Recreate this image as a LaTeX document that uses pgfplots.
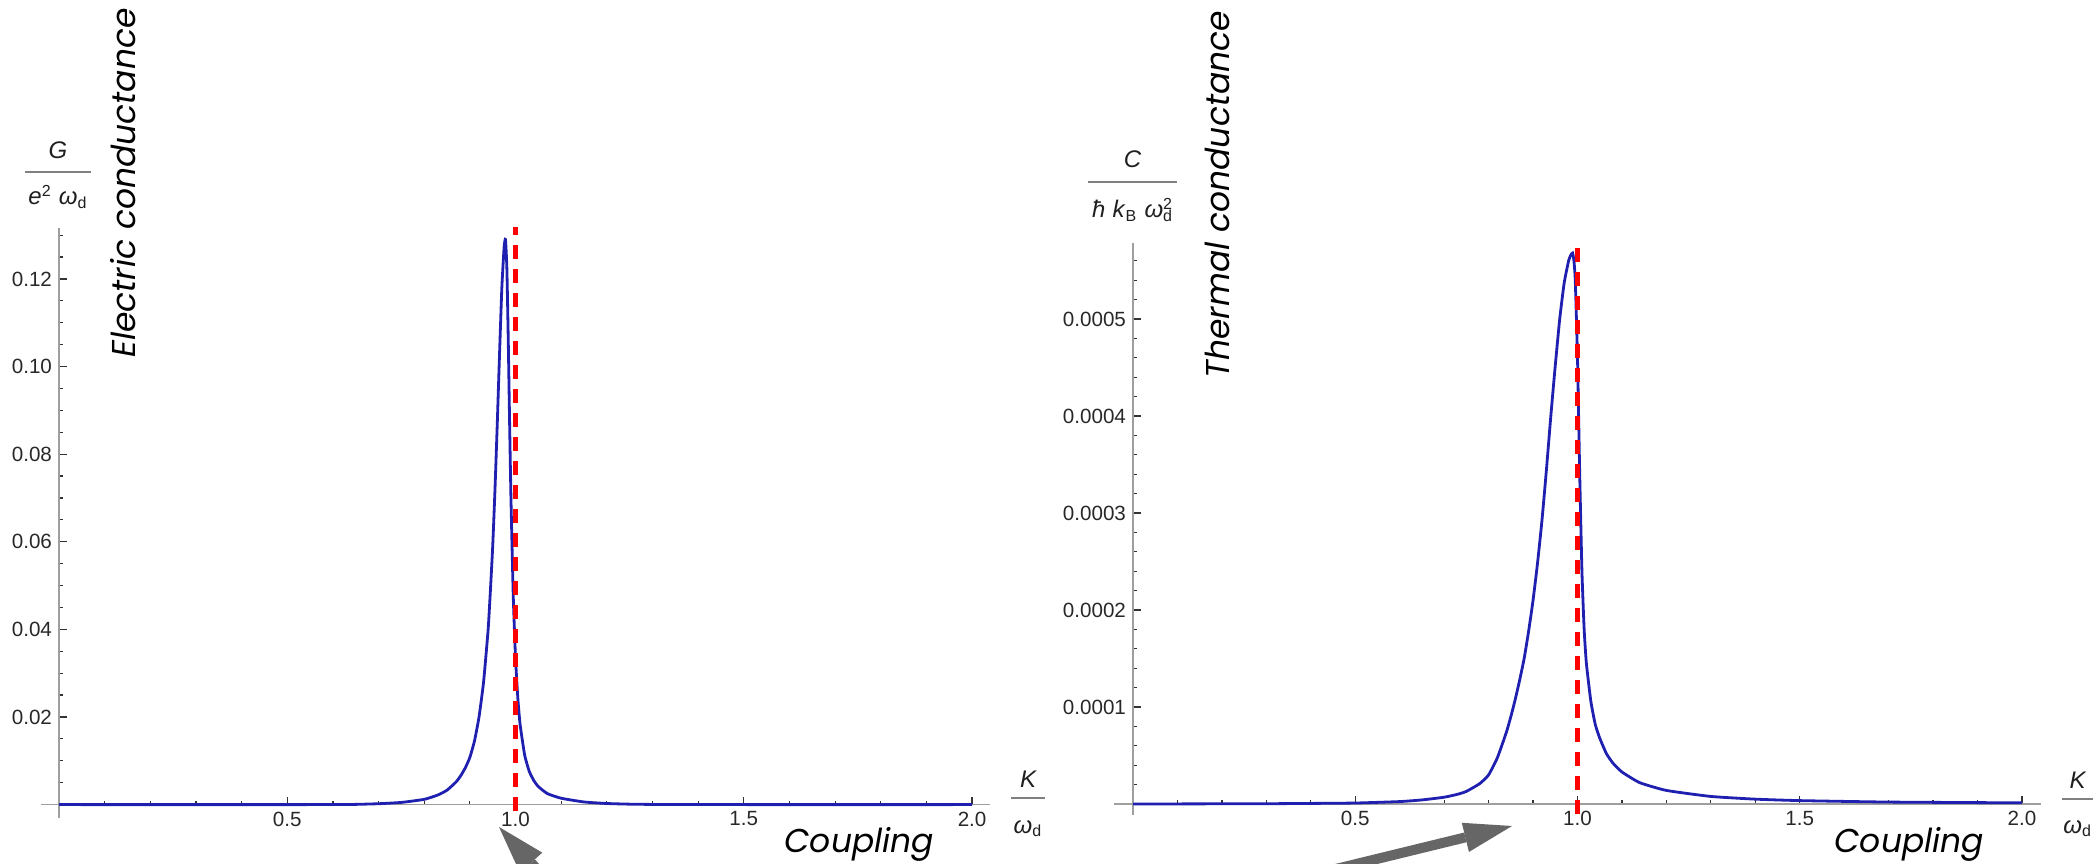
\documentclass[border=0pt]{standalone}
\usepackage{fontspec}
\setmainfont{Liberation Sans}
\newfontfamily\capfont{Poppins}
\usepackage{pgfplots}
\pgfplotsset{compat=1.18}
\usetikzlibrary{arrows.meta}

\definecolor{mblue}{RGB}{32,32,176}
\definecolor{arrowgray}{RGB}{102,102,102}
\definecolor{ticktext}{RGB}{40,40,40}

% Mathematica-like axes through the origin
\pgfplotsset{mma/.style={
  scale only axis, axis lines*=middle, clip=false,
  axis line style={gray!75, line width=0.9pt},
  tick align=inside,
  major tick length=4pt, minor tick length=2pt,
  tick style={gray!40!black, line width=0.6pt},
  tick label style={font=\fontsize{10.3}{12}\selectfont, text=ticktext},
  scaled x ticks=false, scaled y ticks=false,
  xtick={0.5,1,1.5,2}, xticklabels={0.5,1.0,1.5,2.0},
  minor xtick={0.1,0.2,0.3,0.4,0.6,0.7,0.8,0.9,1.1,1.2,1.3,1.4,1.6,1.7,1.8,1.9},
}}
\newcommand{\captext}[1]{\capfont\itshape\fontsize{16.5}{18}\selectfont #1}
\newcommand{\lab}{\fontsize{12}{14}\selectfont\color{black!88}}
\newcommand{\sep}{\hspace{0.3em}}

\begin{document}
\begin{tikzpicture}
\path[use as bounding box] (0,0) rectangle (1050pt,431.5pt);

% electric conductance
\begin{axis}[mma,
  at={(29.5pt,29.2pt)}, anchor=origin,
  width=474.8pt, height=294.8pt,
  xmin=-0.04, xmax=2.04, ymin=-0.003, ymax=0.1316,
  ytick={0.02,0.04,0.06,0.08,0.10,0.12},
  yticklabels={0.02,0.04,0.06,0.08,0.10,0.12},
  minor ytick={0.005,0.01,0.015,0.025,0.03,0.035,0.045,0.05,0.055,0.065,0.07,0.075,0.085,0.09,0.095,0.105,0.11,0.115,0.125,0.13},
]
\addplot[mblue, line width=1.4pt, smooth, tension=0.3] coordinates {
(0,0) (0.55,0) (0.6,0.00001) (0.65,0.00005) (0.7,0.0002) (0.75,0.0005) (0.8,0.0012)
(0.83,0.0022) (0.85,0.0033) (0.87,0.0052) (0.88,0.0066) (0.89,0.0084)
(0.9,0.0108) (0.91,0.0145) (0.92,0.020) (0.93,0.028) (0.94,0.040)
(0.945,0.049) (0.95,0.059) (0.955,0.072) (0.96,0.087) (0.965,0.103)
(0.97,0.118) (0.975,0.1273) (0.978,0.129) (0.981,0.1225) (0.984,0.1064)
(0.987,0.0872) (0.99,0.0697) (0.995,0.0476) (1.0,0.0334) (1.005,0.0243)
(1.01,0.0183) (1.02,0.0113) (1.03,0.0076) (1.04,0.0055) (1.05,0.0041) (1.07,0.0025)
(1.1,0.00145) (1.15,0.0006) (1.2,0.00025) (1.25,0.0001) (1.3,0.00004) (1.4,0.00001) (1.5,0) (2.0,0)
};
\addplot[red, line width=2.6pt, dash pattern=on 7pt off 5pt] coordinates {(1,-0.0015) (1,0.1318)};
\end{axis}

% thermal conductance
\begin{axis}[mma,
  at={(566.5pt,29.5pt)}, anchor=origin,
  width=463.6pt, height=285.8pt,
  xmin=-0.043, xmax=2.043, ymin=-0.0000113, ymax=0.000578,
  ytick={0.0001,0.0002,0.0003,0.0004,0.0005},
  yticklabels={0.0001,0.0002,0.0003,0.0004,0.0005},
  minor ytick={0.00002,0.00004,0.00006,0.00008,0.00012,0.00014,0.00016,0.00018,0.00022,0.00024,0.00026,0.00028,0.00032,0.00034,0.00036,0.00038,0.00042,0.00044,0.00046,0.00048,0.00052,0.00054,0.00056},
]
\addplot[mblue, line width=1.4pt, smooth, tension=0.3] coordinates {
(0,0) (0.3,0.0000003) (0.4,0.0000006) (0.5,0.000001) (0.6,0.0000025) (0.65,0.0000042)
(0.7,0.000007) (0.73,0.00001) (0.75,0.000013) (0.78,0.000021) (0.8,0.00003)
(0.82,0.000048) (0.84,0.000074) (0.85,0.00009) (0.86,0.000108) (0.87,0.000128)
(0.88,0.00015) (0.89,0.000178) (0.9,0.00021) (0.91,0.000248) (0.92,0.000292)
(0.93,0.000344) (0.94,0.0004) (0.95,0.000452) (0.96,0.000500) (0.97,0.000537)
(0.98,0.00056) (0.985,0.000566) (0.989,0.000568) (0.992,0.000560)
(0.995,0.00054) (1.0,0.00046) (1.005,0.00034) (1.01,0.00024) (1.015,0.00018)
(1.02,0.000145) (1.03,0.000106) (1.04,0.000082) (1.05,0.000068) (1.065,0.000052)
(1.08,0.000042) (1.1,0.000033) (1.14,0.000022) (1.2,0.000014) (1.3,0.0000078)
(1.4,0.000005) (1.5,0.0000035) (1.7,0.000002) (2.0,0.0000012)
};
\addplot[red, line width=2.6pt, dash pattern=on 7pt off 5pt] coordinates {(1,-0.00001) (1,0.000578)};
\end{axis}

% axis labels (Mathematica fractions)
\draw[gray, line width=1.3pt] (12.5pt,345.5pt) -- (45.5pt,345.5pt);
\node[anchor=base, inner sep=0] at (29pt,352pt) {\lab\itshape G};
\node[anchor=base, inner sep=0] at (29pt,329pt) {\lab\textit{e}\textsuperscript{2}\sep\textit{ω}\textsubscript{d}};

\draw[gray, line width=1.3pt] (544pt,340.5pt) -- (588.5pt,340.5pt);
\node[anchor=base, inner sep=0] at (566.3pt,347.5pt) {\lab\itshape C};
\node[anchor=base, inner sep=0] at (566.3pt,322.5pt) {\lab\textit{ħ}\sep\textit{k}\textsubscript{B}\sep\textit{ω}\rlap{\textsuperscript{2}}\textsubscript{d}};

\draw[gray, line width=1.3pt] (505.5pt,32.5pt) -- (522.5pt,32.5pt);
\node[anchor=base, inner sep=0] at (514pt,38pt) {\lab\itshape K};
\node[anchor=base, inner sep=0] at (514pt,15pt) {\lab\textit{ω}\textsubscript{d}};

\draw[gray, line width=1.3pt] (1031pt,32pt) -- (1046.5pt,32pt);
\node[anchor=base, inner sep=0] at (1038.8pt,37.5pt) {\lab\itshape K};
\node[anchor=base, inner sep=0] at (1038.8pt,15pt) {\lab\textit{ω}\textsubscript{d}};

% captions
\node[rotate=90, anchor=base west, inner sep=0] at (67.5pt,252.5pt) {\captext{Electric conductance}};
\node[rotate=90, anchor=base west, inner sep=0] at (614.5pt,242pt) {\captext{Thermal conductance}};
\node[anchor=base west, inner sep=0] at (392pt,5.5pt) {\captext{Coupling}};
\node[anchor=base west, inner sep=0] at (917pt,5.5pt) {\captext{Coupling}};

% pointer arrows
\draw[arrowgray, line width=5pt, -{Triangle[length=24pt,width=15pt,line width=0pt]}] (299.5pt,-37.5pt) -- (249.5pt,18pt);
\draw[arrowgray, line width=5pt, -{Triangle[length=24pt,width=15pt,line width=0pt]}] (610.5pt,-17pt) -- (756pt,18.5pt);
\end{tikzpicture}
\end{document}
